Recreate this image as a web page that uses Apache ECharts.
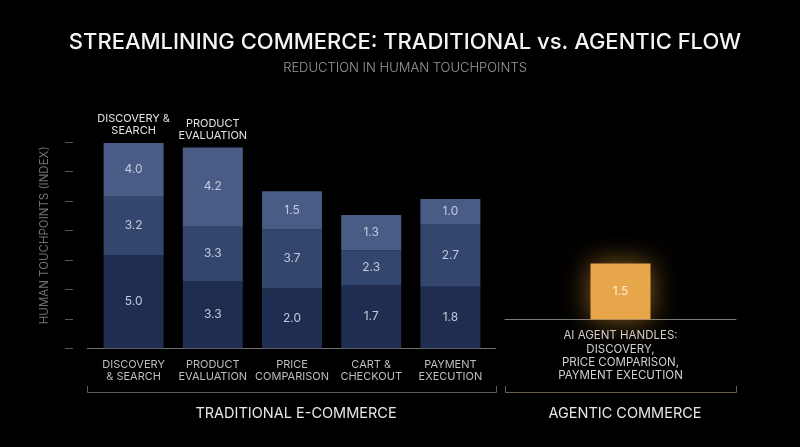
<!DOCTYPE html>
<html>
<head>
<meta charset="utf-8">
<script src="https://cdn.jsdelivr.net/npm/echarts@6/dist/echarts.min.js"></script>
<style>
  html, body { margin: 0; padding: 0; background: #000; }
  #chart { width: 800px; height: 447px; }
</style>
</head>
<body>
<div id="chart"></div>
<script>
// stages of the traditional flow (x axis) and the labels shown above the first two bars
var categories = ['DISCOVERY\n& SEARCH', 'PRODUCT\nEVALUATION', 'PRICE\nCOMPARISON', 'CART &\nCHECKOUT', 'PAYMENT\nEXECUTION'];
var stageHeads = ['DISCOVERY &\nSEARCH', 'PRODUCT\nEVALUATION', '', '', ''];

// segment heights as drawn (axis index units), bottom / middle / top
var baseHeights = [3.17, 2.29, 2.04, 2.15, 2.09];
var midHeights  = [1.98, 1.87, 2.00, 1.18, 2.13];
var topHeights  = [1.83, 2.66, 1.30, 1.20, 0.85];

// numbers printed on the segments
var baseValues = [5.0, 3.3, 2.0, 1.7, 1.8];
var midValues  = [3.2, 3.3, 3.7, 2.3, 2.7];
var topValues  = [4.0, 4.2, 1.5, 1.3, 1.0];

// agentic side
var agentCategories = ['AI AGENT HANDLES:\nDISCOVERY,\nPRICE COMPARISON,\nPAYMENT EXECUTION'];
var agentHeights = [1.90];
var agentValues = [1.5];

var yTicks = [0, 1, 2, 3, 4, 5, 6, 7];

var chart = echarts.init(document.getElementById('chart'));
var font = 'Inter, Roboto, sans-serif';

function segLabel(values) {
  return {
    show: true,
    position: 'inside',
    color: '#c3cbdc',
    fontSize: 12,
    fontFamily: font,
    formatter: function (p) { return values[p.dataIndex].toFixed(1); }
  };
}

var option = {
  backgroundColor: '#000',
  animation: false,
  title: [
    {
      text: 'STREAMLINING COMMERCE: TRADITIONAL vs. AGENTIC FLOW',
      left: 400, top: 26, textAlign: 'center',
      textStyle: { color: '#f4f4f4', fontSize: 22, fontWeight: 500, fontFamily: font }
    },
    {
      text: 'REDUCTION IN HUMAN TOUCHPOINTS',
      left: 400, top: 57, textAlign: 'center',
      textStyle: { color: '#9a9a9a', fontSize: 13, fontWeight: 300, fontFamily: font }
    },
    {
      text: 'TRADITIONAL E-COMMERCE',
      left: 291, top: 401, textAlign: 'center',
      textStyle: { color: '#e6e6e6', fontSize: 14.5, fontWeight: 400, fontFamily: font }
    },
    {
      text: 'AGENTIC COMMERCE',
      left: 620, top: 401, textAlign: 'center',
      textStyle: { color: '#e6e6e6', fontSize: 14.5, fontWeight: 400, fontFamily: font }
    }
  ],
  grid: [
    { left: 94, width: 396, top: 142.3, height: 206 },
    { left: 505, width: 231, top: 113.3, height: 206 }
  ],
  xAxis: [
    {
      type: 'category', gridIndex: 0, data: categories,
      axisLine: { show: false },
      axisTick: { show: false },
      axisLabel: { color: '#bdbdbd', fontSize: 11, lineHeight: 12, margin: 10, fontFamily: font, interval: 0 }
    },
    {
      type: 'category', gridIndex: 1, data: agentCategories,
      axisLine: { show: true, lineStyle: { color: '#7a7a7a', width: 1 } },
      axisTick: { show: false },
      axisLabel: { color: '#cfcfcf', fontSize: 11.5, lineHeight: 13.3, margin: 10, fontFamily: font, interval: 0 }
    }
  ],
  yAxis: [
    {
      type: 'value', gridIndex: 0, min: yTicks[0], max: yTicks[yTicks.length - 1], interval: 1,
      offset: 21,
      name: 'HUMAN TOUCHPOINTS (INDEX)',
      nameLocation: 'middle', nameGap: 22, nameRotate: 90,
      nameTextStyle: { color: '#727272', fontSize: 11.5, fontFamily: font, padding: [0, 0, 0, 20] },
      axisLine: { show: false },
      axisTick: { show: true, length: 8, lineStyle: { color: '#5a5a5a' } },
      axisLabel: { show: false },
      splitLine: { show: false }
    },
    {
      type: 'value', gridIndex: 1, min: 0, max: 7,
      axisLine: { show: false }, axisTick: { show: false },
      axisLabel: { show: false }, splitLine: { show: false }
    }
  ],
  graphic: [
    // baseline under traditional bars
    { type: 'line', shape: { x1: 87, y1: 348.5, x2: 496, y2: 348.5 }, style: { stroke: '#6f6f6f', lineWidth: 1 } },
    // group brackets
    { type: 'polyline', shape: { points: [[87.5, 386], [87.5, 392.5], [496.5, 392.5], [496.5, 386]] }, style: { stroke: '#5e5e5e', lineWidth: 1, fill: null } },
    { type: 'polyline', shape: { points: [[505.5, 386], [505.5, 392.5], [736.5, 392.5], [736.5, 386]] }, style: { stroke: '#6b5f4e', lineWidth: 1, fill: null } }
  ],
  series: [
    {
      name: 'Base', type: 'bar', stack: 'trad', xAxisIndex: 0, yAxisIndex: 0,
      barWidth: 60, data: baseHeights,
      itemStyle: { color: '#1f2e50' },
      label: segLabel(baseValues)
    },
    {
      name: 'Middle', type: 'bar', stack: 'trad', xAxisIndex: 0, yAxisIndex: 0,
      barWidth: 60, data: midHeights,
      itemStyle: { color: '#33466d' },
      label: segLabel(midValues)
    },
    {
      name: 'Top', type: 'bar', stack: 'trad', xAxisIndex: 0, yAxisIndex: 0,
      barWidth: 60, data: topHeights,
      itemStyle: { color: '#485c85' },
      label: segLabel(topValues)
    },
    {
      name: 'Heads', type: 'bar', stack: 'trad', xAxisIndex: 0, yAxisIndex: 0,
      barWidth: 60, data: stageHeads.map(function () { return 0; }),
      itemStyle: { color: 'rgba(0,0,0,0)' },
      label: {
        show: true, position: 'top', distance: 6,
        color: '#e2e2e2', fontSize: 11, lineHeight: 12, fontFamily: font,
        formatter: function (p) { return stageHeads[p.dataIndex]; }
      }
    },
    {
      name: 'Agent', type: 'bar', xAxisIndex: 1, yAxisIndex: 1,
      barWidth: 60, data: agentHeights,
      itemStyle: { color: '#e7a64a', shadowBlur: 28, shadowColor: 'rgba(235,160,55,0.6)' },
      label: {
        show: true, position: 'inside', color: '#fbeedd', fontSize: 12, fontFamily: font,
        formatter: function (p) { return agentValues[p.dataIndex].toFixed(1); }
      }
    }
  ]
};

chart.setOption(option);
</script>
</body>
</html>
